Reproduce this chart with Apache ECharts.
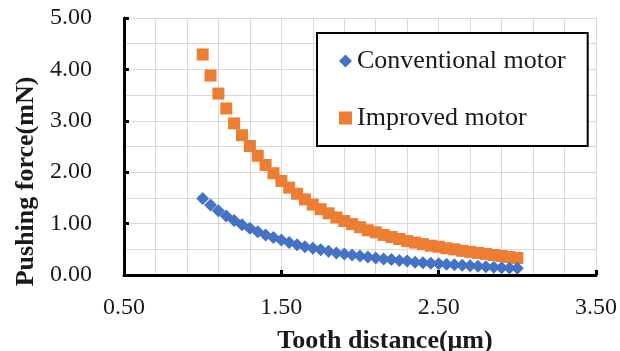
<!DOCTYPE html>
<html>
<head>
<meta charset="utf-8">
<script src="https://cdn.jsdelivr.net/npm/echarts@6/dist/echarts.min.js"></script>
<style>
  html, body { margin: 0; padding: 0; background: #fff; }
  #chart { width: 620px; height: 351px; }
</style>
</head>
<body>
<div id="chart"></div>
<script>
// tooth distance (um) and pushing force (mN)
var toothDistance = [1.00, 1.05, 1.10, 1.15, 1.20, 1.25, 1.30, 1.35, 1.40, 1.45,
  1.50, 1.55, 1.60, 1.65, 1.70, 1.75, 1.80, 1.85, 1.90, 1.95,
  2.00, 2.05, 2.10, 2.15, 2.20, 2.25, 2.30, 2.35, 2.40, 2.45,
  2.50, 2.55, 2.60, 2.65, 2.70, 2.75, 2.80, 2.85, 2.90, 2.95, 3.00];
var conventional = [1.49, 1.36, 1.25, 1.15, 1.06, 0.98, 0.91, 0.84, 0.78, 0.73,
  0.68, 0.63, 0.59, 0.55, 0.52, 0.49, 0.46, 0.43, 0.41, 0.39,
  0.37, 0.35, 0.33, 0.31, 0.30, 0.28, 0.27, 0.25, 0.24, 0.23,
  0.22, 0.21, 0.20, 0.19, 0.18, 0.17, 0.16, 0.15, 0.14, 0.135, 0.13];
var improved = [4.29, 3.88, 3.53, 3.24, 2.95, 2.72, 2.51, 2.32, 2.14, 1.98,
  1.83, 1.70, 1.58, 1.47, 1.37, 1.28, 1.20, 1.12, 1.05, 0.99,
  0.93, 0.87, 0.83, 0.78, 0.74, 0.70, 0.66, 0.63, 0.60, 0.57,
  0.55, 0.52, 0.50, 0.47, 0.45, 0.43, 0.41, 0.39, 0.37, 0.35, 0.33];
var xRange = [0.5, 3.5];
var yTicks = [0, 1, 2, 3, 4, 5];

// x axis runs from 0 so ticks start at a multiple of the interval; labels add the offset back
var xOff = xRange[0];
function pairs(ys) {
  return toothDistance.map(function (x, i) { return [x - xOff, ys[i]]; });
}

var serif = '"Liberation Serif", "Times New Roman", serif';
var chart = echarts.init(document.getElementById('chart'));
chart.setOption({
  backgroundColor: '#ffffff',
  animation: false,
  grid: { left: 124, right: 24, top: 18, bottom: 76, outerBoundsMode: 'none' },
  legend: {
    orient: 'vertical',
    left: 317,
    top: 33,
    padding: [15, 22, 15, 22],
    itemGap: 31,
    itemWidth: 13,
    itemHeight: 13,
    borderColor: '#000',
    borderWidth: 2,
    backgroundColor: '#fff',
    textStyle: { fontFamily: serif, fontSize: 26, color: '#1a1a1a' },
    data: [
      { name: 'Conventional motor', icon: 'diamond' },
      { name: 'Improved motor', icon: 'rect' }
    ]
  },
  xAxis: {
    type: 'value',
    min: 0,
    max: xRange[1] - xOff,
    interval: 1,
    name: 'Tooth distance(μm)',
    nameLocation: 'middle',
    nameGap: 53,
    nameTextStyle: { fontFamily: serif, fontSize: 26, fontWeight: 'bold', color: '#1a1a1a', padding: [0, 0, 0, 50] },
    axisLine: { show: true, onZero: false, lineStyle: { color: '#000', width: 3 } },
    axisTick: { show: true, inside: true, length: 5, lineStyle: { color: '#000', width: 3 } },
    axisLabel: {
      margin: 21,
      fontFamily: serif, fontSize: 24, color: '#1a1a1a',
      formatter: function (v) { return (v + xOff).toFixed(2); }
    },
    splitLine: { show: true, lineStyle: { color: '#d9d9d9', width: 1 } },
    minorTick: { show: false, splitNumber: 5 },
    minorSplitLine: { show: true, lineStyle: { color: '#d9d9d9', width: 1 } }
  },
  yAxis: {
    type: 'value',
    min: yTicks[0],
    max: yTicks[yTicks.length - 1],
    interval: 1,
    name: 'Pushing force(mN)',
    nameLocation: 'middle',
    nameGap: 84,
    nameTextStyle: { fontFamily: serif, fontSize: 26, fontWeight: 'bold', color: '#1a1a1a', padding: [0, 70, 0, 0] },
    axisLine: { show: true, lineStyle: { color: '#000', width: 3 } },
    axisTick: { show: true, inside: true, length: 5, lineStyle: { color: '#000', width: 3 } },
    axisLabel: {
      margin: 32,
      fontFamily: serif, fontSize: 24, color: '#1a1a1a',
      formatter: function (v) { return v.toFixed(2); }
    },
    splitLine: { show: true, lineStyle: { color: '#d9d9d9', width: 1 } },
    minorTick: { show: false, splitNumber: 2 },
    minorSplitLine: { show: true, lineStyle: { color: '#d9d9d9', width: 1 } }
  },
  series: [
    {
      name: 'Improved motor',
      type: 'scatter',
      symbol: 'rect',
      symbolSize: 12,
      itemStyle: { color: '#ED7D31', opacity: 1 },
      data: pairs(improved)
    },
    {
      name: 'Conventional motor',
      type: 'scatter',
      symbol: 'diamond',
      symbolSize: 13,
      itemStyle: { color: '#4472C4', opacity: 1 },
      data: pairs(conventional)
    }
  ]
});
</script>
</body>
</html>
